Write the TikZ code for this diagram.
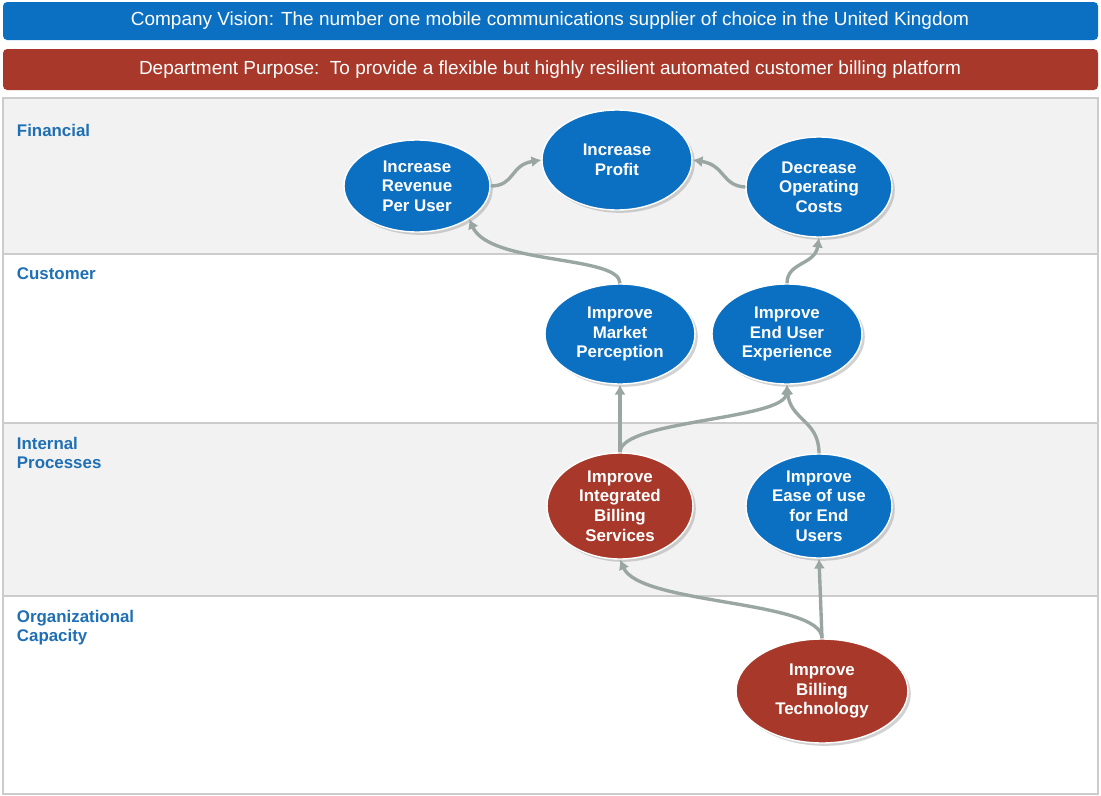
\documentclass[tikz,border=0pt]{standalone}
\usepackage{fontspec}
\setmainfont{Liberation Sans}
\usetikzlibrary{shapes.geometric,shadows}
\definecolor{bblue}{HTML}{0B6FC2}
\definecolor{bred}{HTML}{A8382A}
\definecolor{lblue}{HTML}{1F6FB5}
\definecolor{band}{HTML}{F2F2F2}
\definecolor{arr}{HTML}{9AA6A2}
\begin{document}
\begin{tikzpicture}[x=0.025cm,y=-0.025cm,
 goal/.style={ellipse,draw=white,line width=1pt,text=white,font=\fontsize{12}{14}\selectfont\bfseries,align=center,inner sep=0pt,drop shadow={shadow xshift=2pt,shadow yshift=-2pt,opacity=0.35}},
 bl/.style={goal,fill=bblue},
 rd/.style={goal,fill=bred},
 lab/.style={anchor=north west,text=lblue,font=\fontsize{12}{14}\selectfont\bfseries,align=left},
 ar/.style={draw=arr,line width=2.4pt,-{Latex[length=7pt,width=8pt]}},
 banner/.style={rounded corners=3pt,text=white,font=\fontsize{13.5}{16}\selectfont}]
\usetikzlibrary{arrows.meta}
\useasboundingbox (0,0) rectangle (1101,796);
\fill[white] (0,0) rectangle (1101,796);
\fill[bblue,rounded corners=3pt] (3,2) rectangle (1098,40);
\node[text=white,font=\fontsize{13.5}{16}\selectfont] (vis) at (550,21) {Company Vision: The number one mobile communications supplier of choice in the United Kingdom};
\fill[bred,rounded corners=3pt] (3,49) rectangle (1098,90);
\node[text=white,font=\fontsize{13.5}{16}\selectfont] (pur) at (550,70) {Department Purpose:\ \ To provide a flexible but highly resilient automated customer billing platform};
\fill[band] (3,98) rectangle (1098,254);
\fill[band] (3,423) rectangle (1098,596);
\draw[gray!40,line width=0.8pt] (3,98) rectangle (1098,794) (3,254)--(1098,254) (3,423)--(1098,423) (3,596)--(1098,596);
\node[lab] (l1) at (12,119) {Financial};
\node[lab] (l2) at (12,263) {Customer};
\node[lab] (l3) at (12,432) {Internal\\Processes};
\node[lab] (l4) at (12,605) {Organizational\\Capacity};
\node[bl,minimum width=146*0.025cm,minimum height=92*0.025cm] (rev) at (417,186) {Increase\\Revenue\\Per User};
\node[bl,minimum width=150*0.025cm,minimum height=100*0.025cm] (pro) at (617,160) {Increase\\Profit};
\node[bl,minimum width=146*0.025cm,minimum height=100*0.025cm] (dec) at (819,187) {Decrease\\Operating\\Costs};
\node[bl,minimum width=150*0.025cm,minimum height=100*0.025cm] (mkt) at (620,334) {Improve\\Market\\Perception};
\node[bl,minimum width=150*0.025cm,minimum height=100*0.025cm] (eux) at (787,334) {Improve\\End User\\Experience};
\node[rd,minimum width=146*0.025cm,minimum height=106*0.025cm] (ibs) at (620,506) {Improve\\Integrated\\Billing\\Services};
\node[bl,minimum width=146*0.025cm,minimum height=104*0.025cm] (eas) at (819,506) {Improve\\Ease of use\\for End\\Users};
\node[rd,minimum width=172*0.025cm,minimum height=104*0.025cm] (tec) at (822,691) {Improve\\Billing\\Technology};
\draw[ar] (rev.east) .. controls (515,186) and (510,165) .. (pro.west);
\draw[ar] (dec.west) .. controls (722,186) and (725,165) .. (pro.east);
\draw[ar] (mkt.north) .. controls (620,255) and (490,265) .. (rev.south east);
\draw[ar] (eux.north) .. controls (787,262) and (815,265) .. (dec.south);
\draw[ar] (ibs.north) -- (mkt.south);
\draw[ar] (ibs.north) .. controls (620,420) and (785,420) .. (eux.south);
\draw[ar] (eas.north) .. controls (819,420) and (790,420) .. (eux.south);
\draw[ar] (tec.north) .. controls (822,600) and (640,605) .. (ibs.south);
\draw[ar] (tec.north) -- (eas.south);
\end{tikzpicture}
\end{document}
